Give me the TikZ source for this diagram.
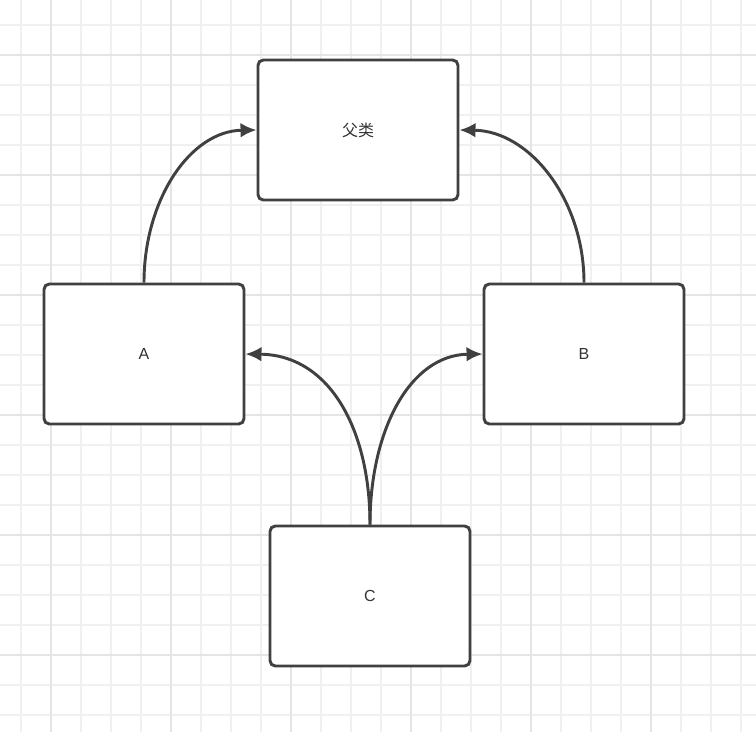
\documentclass[tikz,border=0pt]{standalone}
\usepackage{fontspec}
\setmainfont{Liberation Sans}
\newfontfamily\cjk{Noto Sans CJK SC}
\usetikzlibrary{arrows.meta}
\begin{document}
\begin{tikzpicture}[x=0.75pt,y=-0.75pt,
  box/.style={draw=black!75,line width=2.2pt,rounded corners=4pt,minimum width=150pt,minimum height=105pt,fill=white,font=\large,text=black!80},
  conn/.style={draw=black!75,line width=2.2pt,-{Latex[length=12pt,width=11pt]}}]
\useasboundingbox (0,0) rectangle (756,732);
\fill[white] (0,0) rectangle (756,732);
\foreach \x in {21,51,...,756} \draw[black!6,line width=0.8pt] (\x,0) -- (\x,732);
\foreach \y in {25,55,...,732} \draw[black!6,line width=0.8pt] (0,\y) -- (756,\y);
\foreach \x in {51,171,...,756} \draw[black!10,line width=1pt] (\x,0) -- (\x,732);
\foreach \y in {55,175,...,732} \draw[black!10,line width=1pt] (0,\y) -- (756,\y);
\node[box] (P) at (358,130) {\cjk 父类};
\node[box] (A) at (144,354) {A};
\node[box] (B) at (584,354) {B};
\node[box] (C) at (370,596) {C};
\draw[conn] (A.north) .. controls (144,200) and (190,131) .. (P.west);
\draw[conn] (B.north) .. controls (584,200) and (530,131) .. (P.east);
\draw[conn] (C.north) .. controls (370,430) and (330,355) .. (A.east);
\draw[conn] (C.north) .. controls (370,430) and (410,355) .. (B.west);
\end{tikzpicture}
\end{document}
